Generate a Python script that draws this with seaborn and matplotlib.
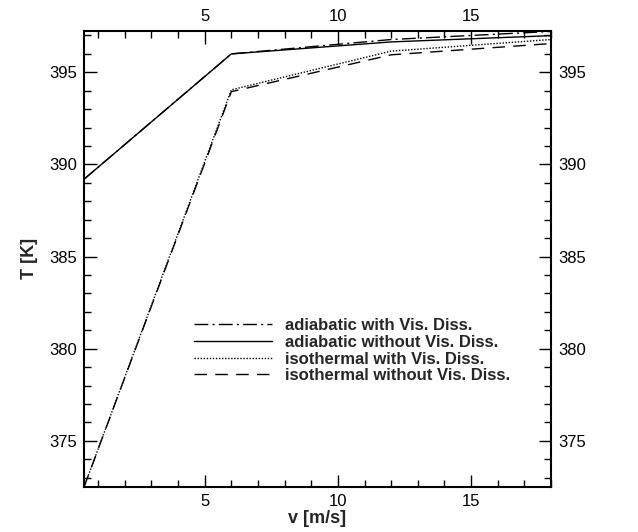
import matplotlib
matplotlib.use("Agg")
import matplotlib.pyplot as plt
import seaborn as sns
import numpy as np
import pandas as pd
from matplotlib.ticker import MultipleLocator

# Data
v = [0.47, 6.0, 12.0, 18.0]
adiabatic_with = [389.2, 396.0, 396.78, 397.22]
adiabatic_without = [389.2, 396.0, 396.65, 396.99]
isothermal_with = [372.5, 394.05, 396.15, 396.78]
isothermal_without = [372.5, 393.95, 395.95, 396.56]
labels = ["adiabatic with Vis. Diss.", "adiabatic without Vis. Diss.",
          "isothermal with Vis. Diss.", "isothermal without Vis. Diss."]
series = [adiabatic_with, adiabatic_without, isothermal_with, isothermal_without]
styles = [(0, (10, 3, 1.5, 3)), "-", (0, (1, 1.2)), (0, (9, 6))]

sns.set_style("ticks")
plt.rcParams["font.family"] = ["Liberation Sans", "DejaVu Sans"]

fig = plt.figure(figsize=(6.38, 5.32), dpi=100)
ax = fig.add_axes([0.1317, 0.0846, 0.8636 - 0.1317, 0.942 - 0.0846])

for lab, ys, ls in zip(labels, series, styles):
    df = pd.DataFrame({"v": v, "T": ys})
    sns.lineplot(data=df, x="v", y="T", ax=ax, color="black", linewidth=1.0,
                 linestyle=ls, label=lab)

ax.set_xlim(0.47, 18.0)
ax.set_ylim(372.5, 397.25)
ax.xaxis.set_major_locator(MultipleLocator(5))
ax.xaxis.set_minor_locator(MultipleLocator(1))
ax.yaxis.set_major_locator(MultipleLocator(5))
ax.yaxis.set_minor_locator(MultipleLocator(1))
ax.tick_params(which="both", direction="in", top=True, right=True,
               labeltop=True, labelright=True, labelsize=12, width=1.0, colors="black")
ax.tick_params(which="major", length=9, pad=5)
ax.tick_params(which="minor", length=5)
for s in ax.spines.values():
    s.set_linewidth(1.5)
    s.set_color("black")

ax.set_xlabel("v [m/s]", fontsize=13, fontweight="bold", labelpad=1)
ax.set_ylabel("T [K]", fontsize=13, fontweight="bold", labelpad=8)

leg = ax.legend(loc="upper left", bbox_to_anchor=(0.235, 0.37), frameon=False,
                prop={"weight": "bold", "size": 12}, handlelength=4.7,
                labelspacing=0.1, handletextpad=0.75, borderaxespad=0, borderpad=0)

fig.savefig("out.png", dpi=100)
